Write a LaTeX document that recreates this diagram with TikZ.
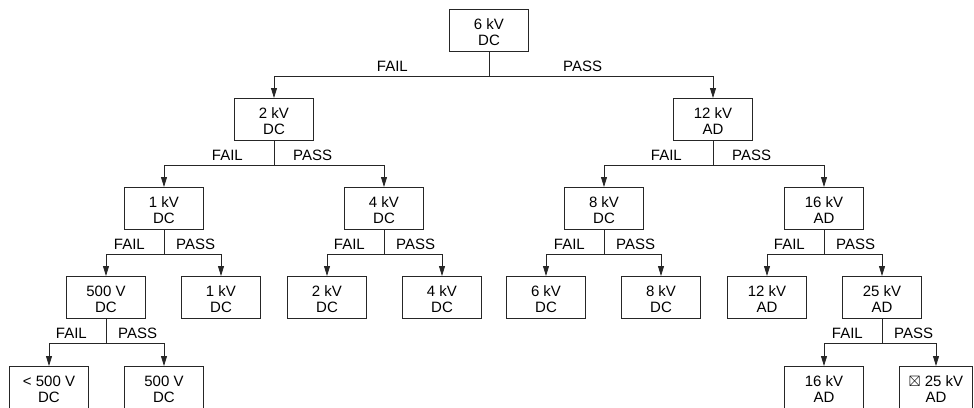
\documentclass[tikz,border=0pt]{standalone}
\usepackage{amsmath,amssymb}
\usepackage{fontspec}
\setmainfont{Liberation Sans}
\usetikzlibrary{arrows.meta,calc}

% one split: stem, junction, two arrows, FAIL/PASS labels
\newcommand{\fork}[5]{%
	\draw[wire] (#1.south) -- ++(0,25) coordinate (#1-j);
	\draw[wire,->] (#1-j) -| (#2.north);
	\draw[wire,->] (#1-j) -| (#3.north);
	\node[lbl, anchor=base east] (#1-fail) at ($(#1-j)+(-#4,-5)$) {FAIL};
	\node[lbl, anchor=base west] (#1-pass) at ($(#1-j)+(#5,-5)$) {PASS};
}

\begin{document}
\begin{tikzpicture}[x=1pt, y=-1pt,
	test/.style={draw=black!85, line width=0.8pt, anchor=north, minimum width=79pt, minimum height=42pt,
		inner sep=0pt, align=center, text height=31pt, text depth=0pt, font=\fontsize{15}{16.5}\selectfont},
	lbl/.style={inner sep=0pt, font=\fontsize{15}{16.5}\selectfont},
	wire/.style={draw=black!85, line width=0.8pt},
	>={Triangle[length=10pt, width=6pt]}]
	\useasboundingbox (0,0) rectangle (974,407);
	% level 0 and 1
	\node[test] (t) at (489,9) {6 kV\\DC};
	\node[test] (tf) at (274,98) {2 kV\\DC};
	\node[test] (tp) at (713,98) {12 kV\\AD};
	% level 2
	\node[test] (tff) at (164,187) {1 kV\\DC};
	\node[test] (tfp) at (384,187) {4 kV\\DC};
	\node[test] (tpf) at (604,187) {8 kV\\DC};
	\node[test] (tpp) at (824,187) {16 kV\\AD};
	% level 3
	\node[test] (tfff) at (106,276) {500 V\\DC};
	\node[test] (tffp) at (221,276) {1 kV\\DC};
	\node[test] (tfpf) at (327,276) {2 kV\\DC};
	\node[test] (tfpp) at (442,276) {4 kV\\DC};
	\node[test] (tpff) at (546,276) {6 kV\\DC};
	\node[test] (tpfp) at (661,276) {8 kV\\DC};
	\node[test] (tppf) at (767,276) {12 kV\\AD};
	\node[test] (tppp) at (882,276) {25 kV\\AD};
	% level 4
	\node[test] (tffff) at (49,366) {< 500 V\\DC};
	\node[test] (tfffp) at (164,366) {500 V\\DC};
	\node[test] (tpppf) at (824,366) {16 kV\\AD};
	\node[test, minimum width=73pt] (tpppp) at (936,366) {$\boxtimes$ 25 kV\\AD};
	% branches
	\fork{t}{tf}{tp}{81}{74}
	\fork{tf}{tff}{tfp}{31}{19}
	\fork{tp}{tpf}{tpp}{31}{19}
	\fork{tff}{tfff}{tffp}{19}{12}
	\fork{tfp}{tfpf}{tfpp}{19}{12}
	\fork{tpf}{tpff}{tpfp}{19}{12}
	\fork{tpp}{tppf}{tppp}{19}{12}
	\fork{tfff}{tffff}{tfffp}{19}{12}
	\fork{tppp}{tpppf}{tpppp}{19}{12}
\end{tikzpicture}
\end{document}
